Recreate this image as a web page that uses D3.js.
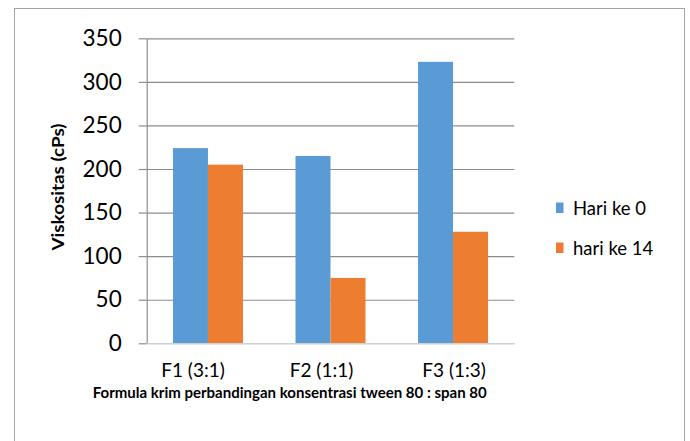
<!DOCTYPE html>
<html>
<head>
<meta charset="utf-8">
<script src="https://cdn.jsdelivr.net/npm/d3@7"></script>
<style>
  html, body { margin: 0; padding: 0; background: #fff; }
  svg { display: block; font-family: Lato, "Open Sans", sans-serif; }
</style>
</head>
<body>
<svg id="chart" width="690" height="441"></svg>
<script>
// Viscosity of cream formulas at day 0 and day 14
const categories = ["F1 (3:1)", "F2 (1:1)", "F3 (1:3)"];
const seriesNames = ["Hari ke 0", "hari ke 14"];
const hariKe0 = [224, 215, 323];
const hariKe14 = [205, 75, 128];
const yTicks = [0, 50, 100, 150, 200, 250, 300, 350];
const colors = ["#5B9BD5", "#ED7D31"];
// horizontal nudge of each category label
const labelShift = [-15, -9, 1];

const seriesValues = [hariKe0, hariKe14];
const rows = categories.map((c, i) => ({
  category: c,
  values: seriesNames.map((s, j) => ({ series: s, value: seriesValues[j][i], color: colors[j] }))
}));

const svg = d3.select("#chart");
const plot = { left: 146.7, right: 514.3, top: 38.3, bottom: 343.3 };

// outer chart frame
svg.append("rect")
  .attr("x", 14.5).attr("y", 8.5)
  .attr("width", 670).attr("height", 445)
  .attr("fill", "#fff").attr("stroke", "#a6a6a6").attr("stroke-width", 1);

const y = d3.scaleLinear().domain([0, 350]).range([plot.bottom, plot.top]);
const x0 = d3.scaleBand().domain(categories).range([plot.left, plot.right]);
const x1 = d3.scaleBand().domain(seriesNames).range([0, x0.bandwidth()])
  .paddingInner(0).paddingOuter(0.75);

// horizontal gridlines
svg.append("g")
  .attr("transform", `translate(${plot.left},0)`)
  .call(d3.axisLeft(y).tickValues(yTicks.filter(v => v > 0))
    .tickSize(-(plot.right - plot.left)).tickFormat(""))
  .call(g => g.select(".domain").remove())
  .call(g => g.selectAll("line").attr("stroke", "#8c8c8c").attr("stroke-width", 1.2));

// bars
const groups = svg.append("g").selectAll("g")
  .data(rows).join("g")
  .attr("transform", d => `translate(${x0(d.category)},0)`);

groups.selectAll("rect")
  .data(d => d.values).join("rect")
  .attr("x", d => x1(d.series))
  .attr("width", x1.bandwidth())
  .attr("y", d => y(d.value))
  .attr("height", d => y(0) - y(d.value))
  .attr("fill", d => d.color);

// y axis with tick labels
svg.append("g")
  .attr("transform", `translate(${plot.left},0)`)
  .call(d3.axisLeft(y).tickValues(yTicks).tickSize(8).tickPadding(17).tickSizeOuter(0))
  .call(g => g.select(".domain").attr("stroke", "#8c8c8c").attr("stroke-width", 1.2))
  .call(g => g.selectAll(".tick line").attr("stroke", "#8c8c8c").attr("stroke-width", 1.2))
  .call(g => g.selectAll(".tick text")
    .attr("font-family", "Lato, sans-serif")
    .attr("font-size", 22.5).attr("fill", "#000"));

// x axis baseline and category labels
svg.append("g")
  .attr("transform", `translate(0,${plot.bottom})`)
  .call(d3.axisBottom(x0).tickSize(0).tickPadding(0).tickSizeOuter(0))
  .call(g => g.select(".domain").attr("stroke", "#d0d0d0").attr("stroke-width", 1.5))
  .call(g => g.selectAll(".tick text")
    .attr("dy", 0).attr("y", 33.4)
    .attr("dx", (d, i) => labelShift[i])
    .attr("font-family", "Lato, sans-serif")
    .attr("font-size", 19).attr("fill", "#000"));

// axis titles
svg.append("text")
  .attr("x", 289.7).attr("y", 398)
  .attr("text-anchor", "middle")
  .attr("font-weight", "bold").attr("font-size", 15)
  .attr("textLength", 394).attr("lengthAdjust", "spacingAndGlyphs")
  .attr("fill", "#000")
  .text("Formula krim perbandingan konsentrasi tween 80 : span 80");

svg.append("text")
  .attr("transform", `translate(64,187) rotate(-90)`)
  .attr("text-anchor", "middle")
  .attr("font-weight", "bold").attr("font-size", 17)
  .attr("textLength", 127).attr("lengthAdjust", "spacingAndGlyphs")
  .attr("fill", "#000")
  .text("Viskositas (cPs)");

// legend
const legend = svg.append("g").selectAll("g")
  .data(seriesNames).join("g")
  .attr("transform", (d, i) => `translate(556,${202.5 + i * 40})`);
legend.append("rect")
  .attr("width", 7.5).attr("height", 10.5)
  .attr("fill", (d, i) => colors[i]);
legend.append("text")
  .attr("x", 17).attr("y", 12)
  .attr("font-size", 18.5).attr("fill", "#000")
  .text(d => d);
</script>
</body>
</html>
